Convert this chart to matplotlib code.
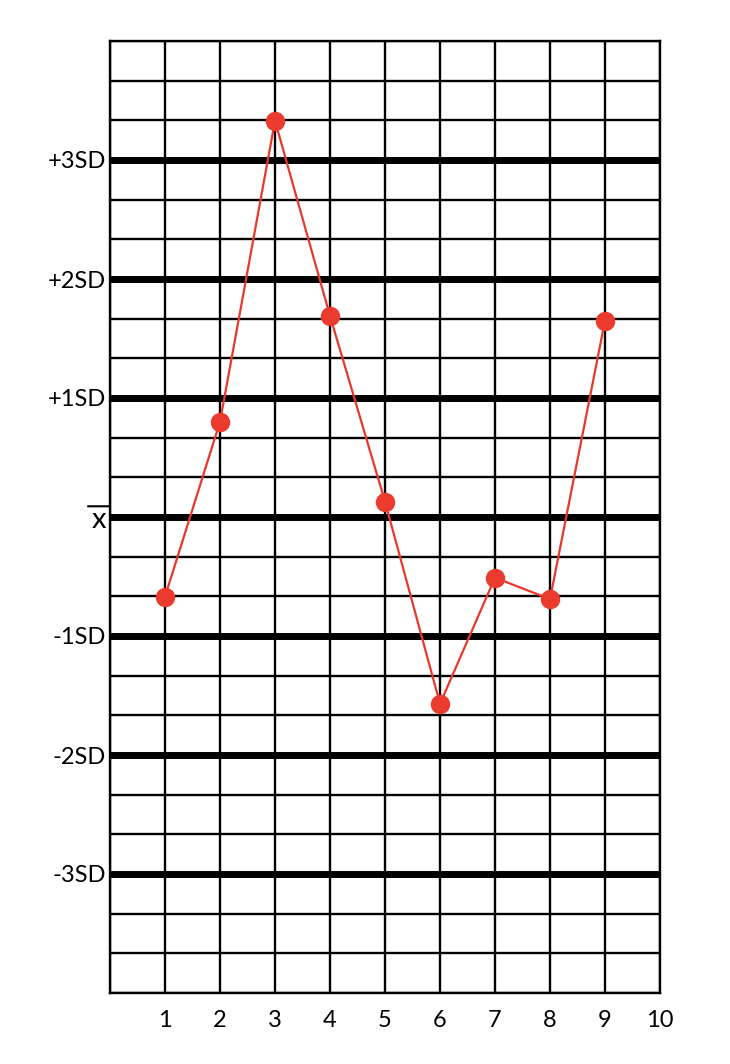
import matplotlib
matplotlib.use("Agg")
import matplotlib.pyplot as plt
import numpy as np

runs = [1, 2, 3, 4, 5, 6, 7, 8, 9]
sd_values = [-0.67, 0.80, 3.33, 1.69, 0.13, -1.57, -0.51, -0.69, 1.65]
x_ticks = [1, 2, 3, 4, 5, 6, 7, 8, 9, 10]
sd_levels = [3, 2, 1, 0, -1, -2, -3]
sd_labels = ["+3SD", "+2SD", "+1SD", "x", "-1SD", "-2SD", "-3SD"]

plt.rcParams['font.family'] = ['Lato', 'DejaVu Sans']

fig = plt.figure(figsize=(7.3, 10.64), dpi=100)
ax = fig.add_axes([110/730, 71/1064, 550/730, 952/1064])
ax.set_xlim(0, 10)
ax.set_ylim(-4, 4)

# thin grid
for xv in range(0, 11):
    ax.axvline(xv, color='black', lw=1.7, zorder=1)
for k in range(-12, 13):
    yv = k / 3
    if k % 3 != 0 or abs(k) == 12:
        ax.axhline(yv, color='black', lw=1.7, zorder=1)
for lv in sd_levels:
    ax.axhline(lv, color='black', lw=5, zorder=2)

ax.plot(runs, sd_values, color='#e8382c', lw=1.6, marker='o', markersize=13,
        markerfacecolor='#ea3b2e', markeredgecolor='#ea3b2e', zorder=5,
        clip_on=False)

ax.set_xticks(x_ticks)
ax.set_xticklabels([str(t) for t in x_ticks], fontsize=17)
ax.set_yticks(sd_levels)
ax.set_yticklabels(sd_labels, fontsize=17)
for lbl in ax.get_yticklabels():
    if lbl.get_text() == "x":
        lbl.set_fontsize(21)
ax.tick_params(length=0, pad=3)
ax.tick_params(axis='x', pad=12)
for s in ax.spines.values():
    s.set_linewidth(1.7)

# overline for mean label
ax.annotate("", xy=(0.0, 0.09), xytext=(-0.4, 0.09), xycoords='data',
            arrowprops=dict(arrowstyle='-', lw=1.5, color='black',
                            shrinkA=0, shrinkB=0), annotation_clip=False)

fig.savefig("out.png", dpi=100, facecolor='white')
